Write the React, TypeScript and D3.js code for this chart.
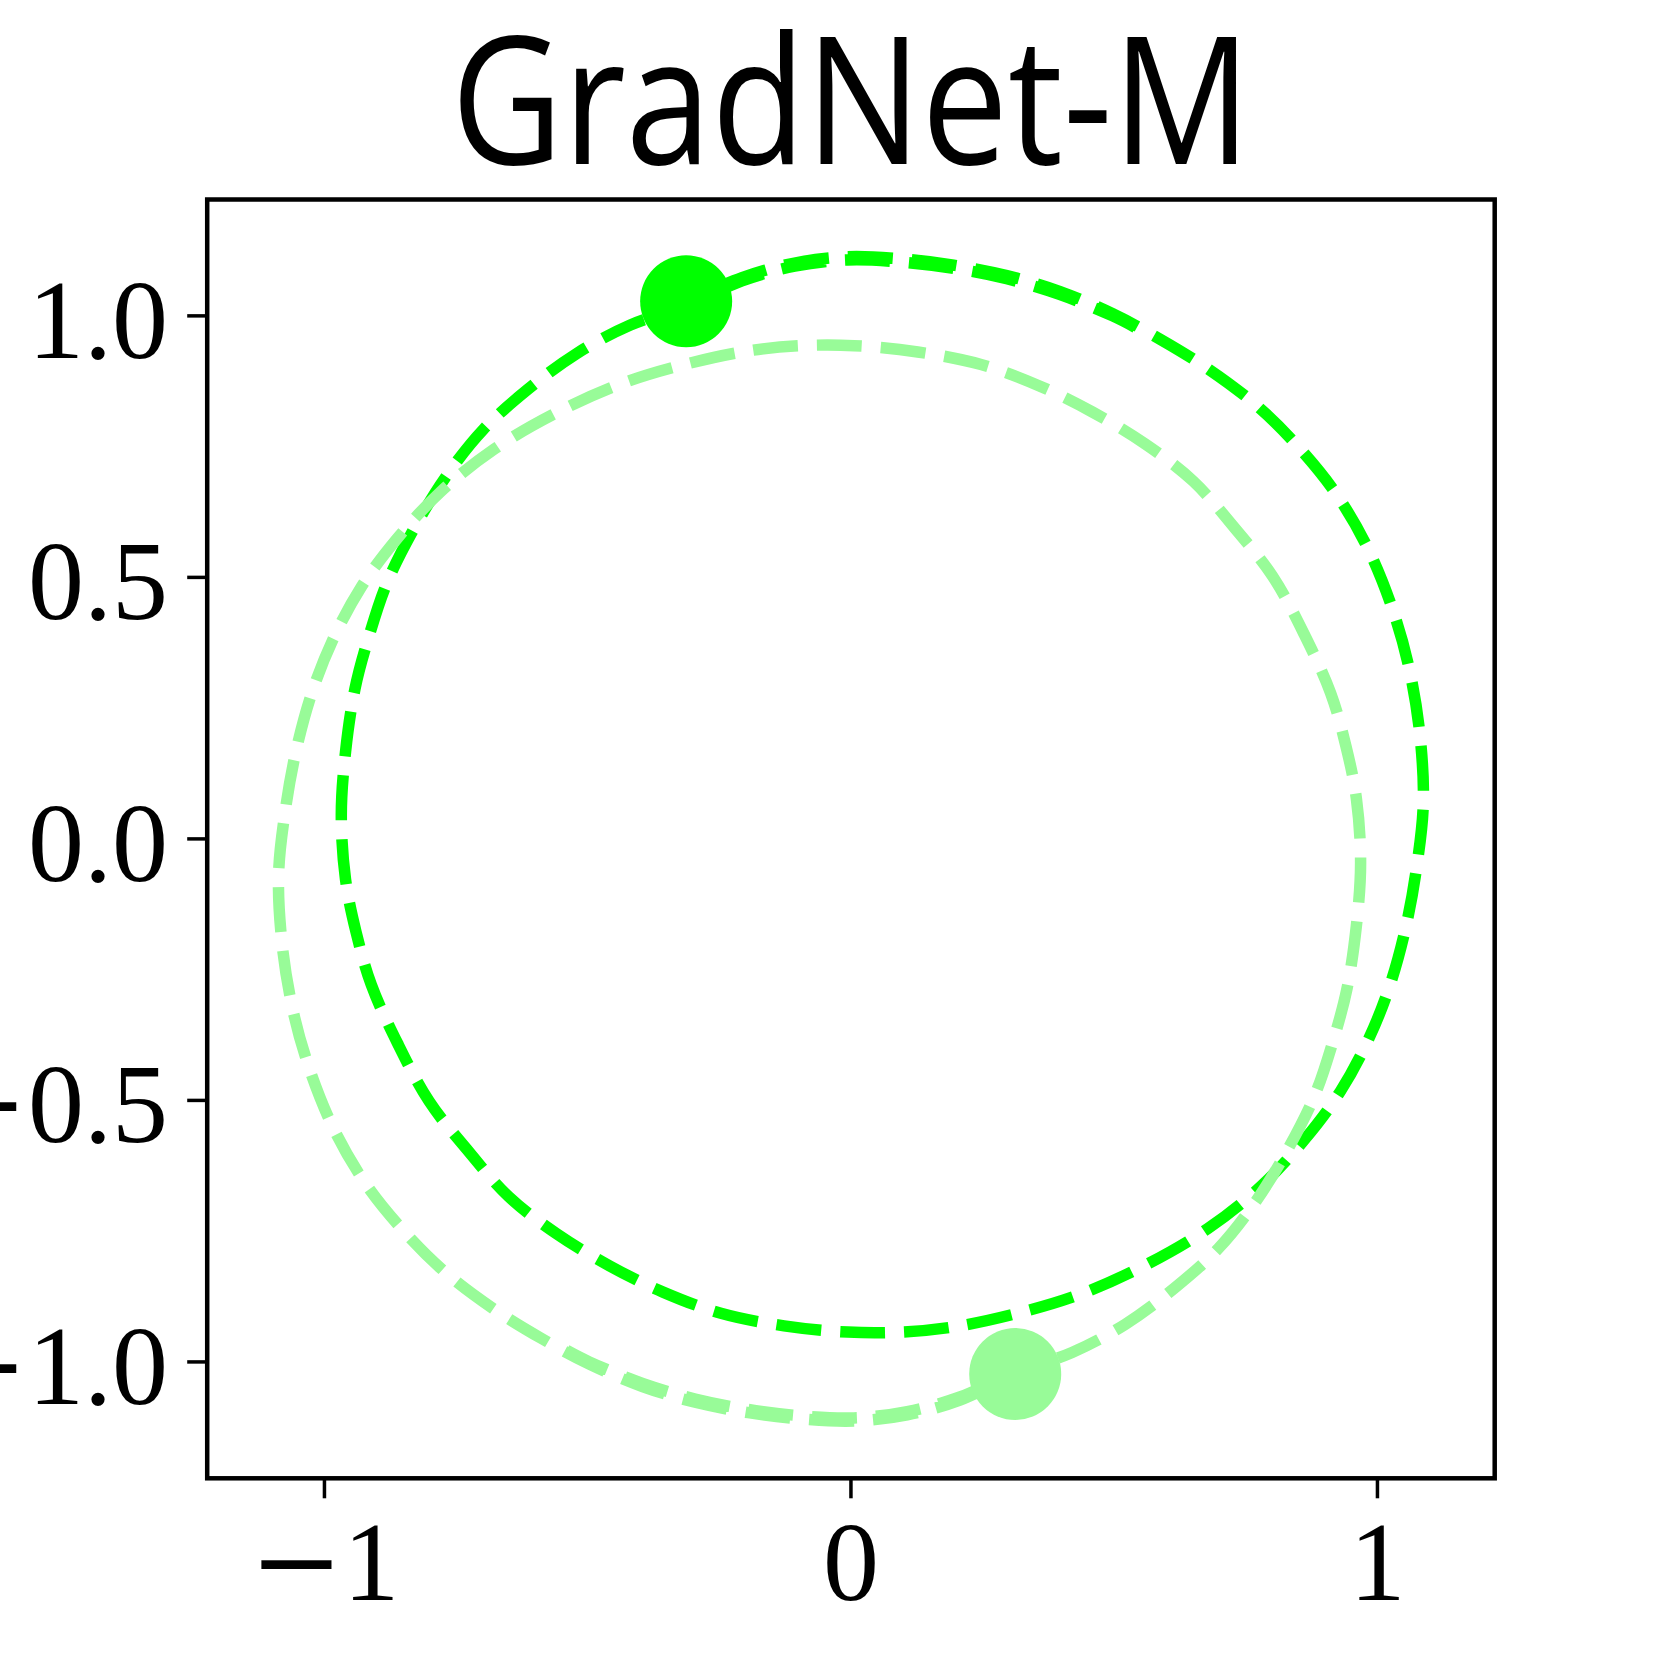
import React from 'react';
import * as d3 from 'd3';

// chart text and ticks
const title = 'GradNet-M';
const xTicks = [-1, 0, 1];
const xTickLabels = ['−1', '0', '1'];
const yTicks = [1.0, 0.5, 0.0, -0.5, -1.0];
const yTickLabels = ['1.0', '0.5', '0.0', '−0.5', '−1.0'];

// trajectory of body 1 (bright green), ends at the marker
const body1Path: [number, number][] = [
  [0.540, 0.978], [0.497, 1.000], [0.396, 1.041], [0.296, 1.071], [0.195, 1.091],
  [0.095, 1.103], [-0.006, 1.107], [-0.107, 1.095], [-0.207, 1.067], [-0.312, 1.020],
  [-0.420, 0.982], [-0.521, 0.928], [-0.613, 0.860], [-0.698, 0.783], [-0.769, 0.693],
  [-0.830, 0.593], [-0.881, 0.490], [-0.915, 0.389], [-0.942, 0.287], [-0.960, 0.166],
  [-0.968, 0.045], [-0.960, -0.077], [-0.940, -0.178], [-0.911, -0.279], [-0.861, -0.391],
  [-0.801, -0.502], [-0.730, -0.593], [-0.650, -0.684], [-0.559, -0.755], [-0.459, -0.816],
  [-0.358, -0.866], [-0.247, -0.907], [-0.127, -0.931], [-0.006, -0.943], [0.095, -0.943],
  [0.195, -0.933], [0.316, -0.907], [0.437, -0.870], [0.557, -0.816], [0.678, -0.745],
  [0.779, -0.664], [0.863, -0.573], [0.930, -0.482], [0.984, -0.381], [1.024, -0.279],
  [1.054, -0.168], [1.074, -0.057], [1.087, 0.065], [1.082, 0.186], [1.064, 0.308],
  [1.035, 0.420], [0.984, 0.551], [0.920, 0.662], [0.843, 0.757], [0.769, 0.830],
  [0.678, 0.899], [0.588, 0.955], [0.497, 1.004], [0.396, 1.047], [0.296, 1.077],
  [0.195, 1.097], [0.095, 1.109], [-0.006, 1.113], [-0.107, 1.101], [-0.207, 1.073],
  [-0.313, 1.028],
];

// trajectory of body 2 (pale green)
const body2Path: [number, number][] = [
  [-0.540, -0.978], [-0.497, -1.000], [-0.396, -1.041], [-0.296, -1.071], [-0.195, -1.091],
  [-0.095, -1.103], [0.006, -1.107], [0.107, -1.095], [0.207, -1.067], [0.312, -1.020],
  [0.420, -0.982], [0.521, -0.928], [0.613, -0.860], [0.698, -0.783], [0.769, -0.693],
  [0.830, -0.593], [0.881, -0.490], [0.915, -0.389], [0.942, -0.287], [0.960, -0.166],
  [0.968, -0.045], [0.960, 0.077], [0.940, 0.178], [0.911, 0.279], [0.861, 0.391],
  [0.801, 0.502], [0.730, 0.593], [0.650, 0.684], [0.559, 0.755], [0.459, 0.816],
  [0.358, 0.866], [0.247, 0.907], [0.127, 0.931], [0.006, 0.943], [-0.095, 0.943],
  [-0.195, 0.933], [-0.316, 0.907], [-0.437, 0.870], [-0.557, 0.816], [-0.678, 0.745],
  [-0.779, 0.664], [-0.863, 0.573], [-0.930, 0.482], [-0.984, 0.381], [-1.024, 0.279],
  [-1.054, 0.168], [-1.074, 0.057], [-1.087, -0.065], [-1.082, -0.186], [-1.064, -0.308],
  [-1.035, -0.420], [-0.984, -0.551], [-0.920, -0.662], [-0.843, -0.757], [-0.769, -0.830],
  [-0.678, -0.899], [-0.588, -0.955], [-0.497, -1.004], [-0.396, -1.047], [-0.296, -1.077],
  [-0.195, -1.097], [-0.095, -1.109], [0.006, -1.113], [0.107, -1.101], [0.207, -1.073],
  [0.312, -1.023],
];

const body1End: [number, number] = [-0.313, 1.028];
const body2End: [number, number] = [0.312, -1.023];

const W = 1661;
const H = 1661;
const left = 207.2, right = 1494.7, top = 199.5, bottom = 1478.3;

export default function App() {
  const x = d3.scaleLinear().domain([-1.2227, 1.2227]).range([left, right]);
  const y = d3.scaleLinear().domain([-1.2225, 1.2225]).range([bottom, top]);

  const line = d3.line<[number, number]>()
    .x(d => x(d[0]))
    .y(d => y(d[1]))
    .curve(d3.curveCatmullRom.alpha(0.5));

  const serif = '"Liberation Serif", "Times New Roman", serif';

  return (
    <svg width={W} height={H} style={{ position: 'absolute', left: 0, top: 0, background: '#fff' }}>
      <rect x={0} y={0} width={W} height={H} fill="#fff" />

      <path d={line(body1Path) || ''} fill="none" stroke="#00ff00" strokeWidth={11.5}
        strokeDasharray="45 19" strokeLinecap="butt" strokeLinejoin="round" />
      <path d={line(body2Path) || ''} fill="none" stroke="#98fb98" strokeWidth={11.5}
        strokeDasharray="45 19" strokeLinecap="butt" strokeLinejoin="round" />

      <circle cx={x(body1End[0])} cy={y(body1End[1])} r={46} fill="#00ff00" />
      <circle cx={x(body2End[0])} cy={y(body2End[1])} r={46} fill="#98fb98" />

      <rect x={left} y={top} width={right - left} height={bottom - top}
        fill="none" stroke="#000" strokeWidth={4.5} />

      {xTicks.map((t, i) => (
        <g key={'x' + i}>
          <line x1={x(t)} x2={x(t)} y1={bottom} y2={bottom + 20} stroke="#000" strokeWidth={3.5} />
          <text x={x(t)} y={1600} textAnchor="middle" fontFamily={serif} fontSize={112}>
            {xTickLabels[i].startsWith('−')
              ? <><tspan fontFamily='"DejaVu Serif", serif'>−</tspan>{xTickLabels[i].slice(1)}</>
              : xTickLabels[i]}
          </text>
        </g>
      ))}

      {yTicks.map((t, i) => (
        <g key={'y' + i}>
          <line x1={left - 20} x2={left} y1={y(t)} y2={y(t)} stroke="#000" strokeWidth={3.5} />
          <text x={168} y={y(t) + 42} textAnchor="end" fontFamily={serif} fontSize={112}>
            {yTickLabels[i].startsWith('−')
              ? <><tspan fontFamily='"DejaVu Serif", serif'>−</tspan>{yTickLabels[i].slice(1)}</>
              : yTickLabels[i]}
          </text>
        </g>
      ))}

      <text x={(left + right) / 2} y={164} textAnchor="middle"
        fontFamily='"Open Sans", "DejaVu Sans", sans-serif' fontSize={178}
        textLength={800} lengthAdjust="spacingAndGlyphs">
        {title}
      </text>
    </svg>
  );
}
